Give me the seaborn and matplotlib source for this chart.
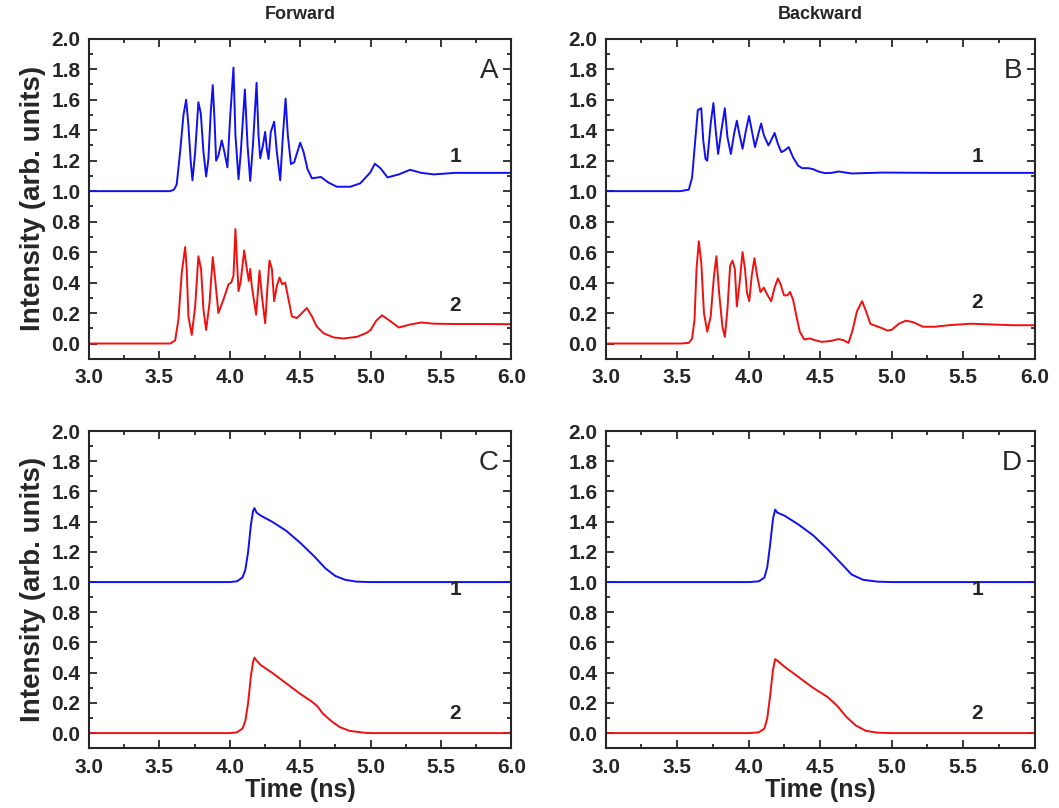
import matplotlib
matplotlib.use("Agg")
import matplotlib.pyplot as plt
from matplotlib.ticker import MultipleLocator, FormatStrFormatter
import seaborn as sns
import pandas as pd

# ---- data (time in ns, intensity in arb. units) ----
fwd_osc_1 = [(3.0, 1.0), (3.5, 1.0), (3.576, 1.0), (3.604, 1.01), (3.623, 1.044), (3.647, 1.256),
             (3.671, 1.50), (3.690, 1.60), (3.706, 1.433), (3.723, 1.189), (3.735, 1.071), (3.754, 1.256),
             (3.777, 1.584), (3.794, 1.511), (3.813, 1.256), (3.832, 1.096), (3.848, 1.211), (3.865, 1.522),
             (3.879, 1.696), (3.891, 1.478), (3.903, 1.20), (3.919, 1.233), (3.943, 1.333), (3.962, 1.256),
             (3.983, 1.156), (4.002, 1.478), (4.026, 1.811), (4.040, 1.367), (4.062, 1.078), (4.078, 1.256),
             (4.107, 1.667), (4.126, 1.30), (4.145, 1.067), (4.164, 1.30), (4.190, 1.711), (4.204, 1.367),
             (4.216, 1.216), (4.235, 1.30), (4.251, 1.389), (4.263, 1.278), (4.275, 1.211), (4.291, 1.389),
             (4.315, 1.456), (4.334, 1.256), (4.358, 1.071), (4.377, 1.367), (4.396, 1.607), (4.412, 1.367),
             (4.434, 1.178), (4.457, 1.189), (4.500, 1.318), (4.524, 1.256), (4.552, 1.144), (4.583, 1.084),
             (4.647, 1.093), (4.701, 1.056), (4.760, 1.029), (4.855, 1.029), (4.926, 1.051), (4.997, 1.122),
             (5.03, 1.18), (5.07, 1.15), (5.12, 1.09), (5.2, 1.11), (5.28, 1.14), (5.36, 1.12), (5.45, 1.11),
             (5.6, 1.12), (5.8, 1.12), (6.0, 1.12)]

fwd_osc_2 = [(3.0, 0.0), (3.5, 0.0), (3.576, 0.0), (3.612, 0.02), (3.635, 0.156), (3.659, 0.467),
             (3.683, 0.633), (3.694, 0.489), (3.706, 0.178), (3.730, 0.056), (3.754, 0.244), (3.777, 0.573),
             (3.796, 0.489), (3.813, 0.222), (3.832, 0.089), (3.856, 0.267), (3.879, 0.567), (3.896, 0.422),
             (3.919, 0.20), (3.955, 0.289), (3.991, 0.389), (4.010, 0.40), (4.026, 0.444), (4.040, 0.751),
             (4.050, 0.556), (4.062, 0.344), (4.078, 0.411), (4.102, 0.611), (4.121, 0.489), (4.135, 0.411),
             (4.145, 0.489), (4.156, 0.378), (4.187, 0.189), (4.211, 0.478), (4.228, 0.311), (4.251, 0.133),
             (4.268, 0.378), (4.282, 0.544), (4.299, 0.489), (4.315, 0.278), (4.334, 0.378), (4.353, 0.433),
             (4.372, 0.389), (4.393, 0.40), (4.417, 0.289), (4.441, 0.178), (4.476, 0.167), (4.512, 0.20),
             (4.547, 0.233), (4.583, 0.178), (4.618, 0.111), (4.666, 0.067), (4.737, 0.04), (4.808, 0.033),
             (4.903, 0.044), (4.974, 0.071), (5.0, 0.09), (5.04, 0.15), (5.08, 0.185), (5.12, 0.16),
             (5.2, 0.105), (5.28, 0.125), (5.36, 0.138), (5.45, 0.13), (5.6, 0.128), (5.8, 0.128), (6.0, 0.127)]

bwd_osc_1 = [(3.0, 1.0), (3.522, 1.0), (3.581, 1.01), (3.604, 1.089), (3.628, 1.356), (3.644, 1.533),
             (3.668, 1.544), (3.682, 1.333), (3.698, 1.211), (3.710, 1.20), (3.734, 1.444), (3.753, 1.578),
             (3.769, 1.40), (3.786, 1.244), (3.809, 1.40), (3.833, 1.544), (3.851, 1.356), (3.875, 1.244),
             (3.898, 1.378), (3.917, 1.462), (3.934, 1.378), (3.957, 1.278), (3.981, 1.40), (4.002, 1.493),
             (4.021, 1.40), (4.044, 1.289), (4.068, 1.378), (4.087, 1.444), (4.106, 1.367), (4.138, 1.30),
             (4.162, 1.344), (4.181, 1.382), (4.204, 1.311), (4.228, 1.256), (4.251, 1.267), (4.280, 1.289),
             (4.310, 1.222), (4.346, 1.167), (4.374, 1.151), (4.416, 1.151), (4.451, 1.144), (4.487, 1.129),
             (4.534, 1.118), (4.581, 1.12), (4.628, 1.129), (4.675, 1.122), (4.722, 1.116), (4.793, 1.118),
             (4.934, 1.122), (5.3, 1.12), (6.0, 1.12)]

bwd_osc_2 = [(3.0, 0.0), (3.522, 0.0), (3.581, 0.004), (3.604, 0.033), (3.621, 0.156), (3.635, 0.489),
             (3.651, 0.671), (3.668, 0.533), (3.687, 0.20), (3.710, 0.078), (3.734, 0.178), (3.757, 0.444),
             (3.774, 0.573), (3.793, 0.333), (3.816, 0.111), (3.833, 0.044), (3.851, 0.222), (3.870, 0.511),
             (3.887, 0.544), (3.903, 0.489), (3.917, 0.244), (3.934, 0.378), (3.957, 0.60), (3.974, 0.489),
             (3.988, 0.333), (4.004, 0.278), (4.021, 0.444), (4.040, 0.56), (4.059, 0.444), (4.082, 0.338),
             (4.106, 0.367), (4.129, 0.322), (4.157, 0.278), (4.181, 0.367), (4.204, 0.427), (4.223, 0.389),
             (4.247, 0.316), (4.270, 0.316), (4.289, 0.338), (4.310, 0.289), (4.334, 0.178), (4.357, 0.078),
             (4.388, 0.027), (4.428, 0.033), (4.463, 0.022), (4.510, 0.011), (4.569, 0.016), (4.628, 0.029),
             (4.663, 0.022), (4.698, 0.004), (4.727, 0.089), (4.757, 0.211), (4.793, 0.278), (4.821, 0.211),
             (4.851, 0.129), (4.887, 0.116), (4.934, 0.10), (4.97, 0.085), (5.0, 0.09), (5.05, 0.13),
             (5.1, 0.15), (5.15, 0.14), (5.22, 0.11), (5.3, 0.11), (5.4, 0.12), (5.55, 0.13), (5.7, 0.125),
             (5.85, 0.12), (6.0, 0.12)]

fwd_pulse_1 = [(3.0, 1.0), (4.0, 1.0), (4.05, 1.005), (4.09, 1.03), (4.11, 1.08), (4.13, 1.2),
               (4.15, 1.38), (4.165, 1.47), (4.175, 1.49), (4.19, 1.46), (4.22, 1.44), (4.3, 1.40),
               (4.4, 1.34), (4.5, 1.26), (4.6, 1.17), (4.68, 1.09), (4.75, 1.04), (4.82, 1.015),
               (4.9, 1.003), (5.0, 1.0), (6.0, 1.0)]

fwd_pulse_2 = [(3.0, 0.0), (4.0, 0.0), (4.05, 0.005), (4.09, 0.03), (4.11, 0.08), (4.13, 0.2),
               (4.15, 0.38), (4.165, 0.47), (4.175, 0.50), (4.19, 0.48), (4.22, 0.45), (4.3, 0.40),
               (4.4, 0.33), (4.5, 0.26), (4.58, 0.21), (4.62, 0.18), (4.66, 0.13), (4.72, 0.08),
               (4.78, 0.04), (4.85, 0.015), (4.95, 0.003), (5.0, 0.0), (6.0, 0.0)]

bwd_pulse_1 = [(3.0, 1.0), (4.0, 1.0), (4.07, 1.005), (4.11, 1.03), (4.13, 1.1), (4.15, 1.25),
               (4.17, 1.42), (4.185, 1.48), (4.2, 1.46), (4.25, 1.44), (4.35, 1.38), (4.45, 1.31),
               (4.55, 1.22), (4.65, 1.12), (4.72, 1.05), (4.8, 1.015), (4.9, 1.003), (5.0, 1.0), (6.0, 1.0)]

bwd_pulse_2 = [(3.0, 0.0), (4.0, 0.0), (4.07, 0.005), (4.11, 0.03), (4.13, 0.1), (4.15, 0.25),
               (4.17, 0.42), (4.185, 0.49), (4.2, 0.48), (4.25, 0.44), (4.35, 0.37), (4.45, 0.30),
               (4.55, 0.24), (4.62, 0.18), (4.68, 0.11), (4.75, 0.05), (4.82, 0.015), (4.9, 0.003),
               (5.0, 0.0), (6.0, 0.0)]

panel_letters = ["A", "B", "C", "D"]
column_titles = ["Forward", "Backward"]
x_ticks = [3.0, 3.5, 4.0, 4.5, 5.0, 5.5, 6.0]
y_ticks = [0.0, 0.2, 0.4, 0.6, 0.8, 1.0, 1.2, 1.4, 1.6, 1.8, 2.0]

sns.set_style("ticks")
plt.rcParams["font.family"] = ["Liberation Sans", "DejaVu Sans"]
plt.rcParams["font.weight"] = "bold"

fig = plt.figure(figsize=(10.59, 8.08), dpi=100)

# axes rectangles in figure fractions
boxes = [
    [0.084, 0.556, 0.399, 0.396],
    [0.572, 0.556, 0.405, 0.396],
    [0.084, 0.074, 0.399, 0.3925],
    [0.572, 0.074, 0.405, 0.3925],
]

traces = [
    (fwd_osc_1, fwd_osc_2),
    (bwd_osc_1, bwd_osc_2),
    (fwd_pulse_1, fwd_pulse_2),
    (bwd_pulse_1, bwd_pulse_2),
]

# position of the curve numbers (x, y1, y2)
number_pos = [(5.6, 1.23, 0.25), (5.6, 1.23, 0.27), (5.6, 0.95, 0.13), (5.6, 0.95, 0.13)]

for i, (box, (tr1, tr2)) in enumerate(zip(boxes, traces)):
    ax = fig.add_axes(box)
    d1 = pd.DataFrame(tr1, columns=["t", "I"])
    d2 = pd.DataFrame(tr2, columns=["t", "I"])
    sns.lineplot(data=d1, x="t", y="I", ax=ax, color="#1010f0", lw=1.4, sort=False, estimator=None)
    sns.lineplot(data=d2, x="t", y="I", ax=ax, color="#f01010", lw=1.4, sort=False, estimator=None)

    ax.set_xlim(3.0, 6.0)
    ax.set_ylim(-0.1, 2.0)
    ax.set_xticks(x_ticks)
    ax.set_yticks(y_ticks)
    ax.xaxis.set_minor_locator(MultipleLocator(0.25))
    ax.yaxis.set_minor_locator(MultipleLocator(0.1))
    ax.xaxis.set_major_formatter(FormatStrFormatter("%.1f"))
    ax.yaxis.set_major_formatter(FormatStrFormatter("%.1f"))
    ax.tick_params(which="both", direction="in", top=True, right=True, width=1.3,
                   labelsize=15, pad=6)
    ax.tick_params(axis="x", which="major", pad=7)
    ax.tick_params(which="major", length=6)
    ax.tick_params(which="minor", length=3)
    for lab in ax.get_xticklabels() + ax.get_yticklabels():
        lab.set_fontweight("bold")
    for sp in ax.spines.values():
        sp.set_linewidth(1.5)

    ax.set_xlabel("Time (ns)" if i >= 2 else "", fontsize=18, fontweight="bold", labelpad=1)
    ax.set_ylabel("Intensity (arb. units)" if i % 2 == 0 else "", fontsize=20, fontweight="bold",
                  labelpad=4)
    if i < 2:
        ax.set_title(column_titles[i], fontsize=13, fontweight="bold", pad=14)

    ax.text(0.97, 0.9, panel_letters[i], transform=ax.transAxes, ha="right", va="center",
            fontsize=20, fontweight="normal")
    nx, ny1, ny2 = number_pos[i]
    ax.text(nx, ny1, "1", ha="center", va="center", fontsize=15, fontweight="bold")
    ax.text(nx, ny2, "2", ha="center", va="center", fontsize=15, fontweight="bold")

fig.savefig("out.png", dpi=100)
